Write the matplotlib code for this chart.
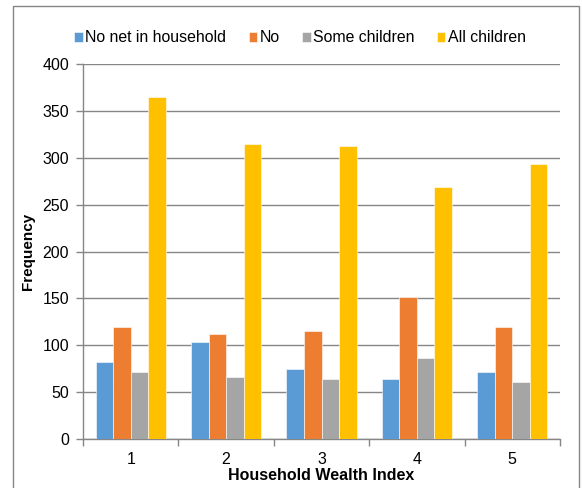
import matplotlib
matplotlib.use("Agg")
import matplotlib.pyplot as plt
import numpy as np
from matplotlib.patches import Rectangle

categories = ["1", "2", "3", "4", "5"]
series_names = ["No net in household", "No", "Some children", "All children"]
no_net = [82, 103, 75, 64, 72]
no = [120, 112, 115, 151, 119]
some_children = [71, 66, 64, 86, 61]
all_children = [365, 315, 313, 269, 293]
colors = ["#5B9BD5", "#ED7D31", "#A5A5A5", "#FFC000"]

plt.rcParams['font.family'] = ['Liberation Sans', 'DejaVu Sans']

fig = plt.figure(figsize=(5.82, 4.88), dpi=100)
ax = fig.add_axes([83/582, 49/488, (560-83)/582, (439-64)/488])

x = np.arange(1, len(categories) + 1)
w = 0.184
data = [no_net, no, some_children, all_children]
for i, (vals, name, c) in enumerate(zip(data, series_names, colors)):
    ax.bar(x + (i - 1.5) * w, vals, w, color=c, label=name,
           edgecolor='white', linewidth=0.4, zorder=3)

ax.set_xlim(0.5, 5.5)
ax.set_ylim(0, 400)
ax.set_yticks(np.arange(0, 401, 50))
ax.yaxis.grid(True, color='#868686', linewidth=1, zorder=0)
ax.set_axisbelow(True)
for s in ['top', 'right']:
    ax.spines[s].set_visible(False)
for s in ['left', 'bottom']:
    ax.spines[s].set_color('#868686')
    ax.spines[s].set_linewidth(1)

ax.set_xticks(x)
ax.set_xticklabels(categories)
ax.set_xticks(np.arange(0.5, 5.6, 1), minor=True)
ax.tick_params(axis='x', which='major', length=0, labelsize=11.5, pad=9)
ax.tick_params(axis='x', which='minor', length=5, color='#868686', width=1)
ax.tick_params(axis='y', length=5, color='#868686', width=1, labelsize=11.5, pad=5)

ax.set_ylabel("Frequency", fontsize=11, fontweight='bold', labelpad=5)
ax.set_xlabel("Household Wealth Index", fontsize=11.5, fontweight='bold', labelpad=1)

fig.legend(loc='center', bbox_to_anchor=(300/582, 1 - 38/488), ncol=4, frameon=False,
           fontsize=11.4, handlelength=0.55, handleheight=0.55, handletextpad=0.15,
           columnspacing=1.4)

fig.patches.append(Rectangle((13/582, -0.05), (579-13)/582, 1.05 - 6/488,
                             transform=fig.transFigure, fill=False,
                             edgecolor='#868686', linewidth=1))

fig.savefig("out.png", dpi=100)
